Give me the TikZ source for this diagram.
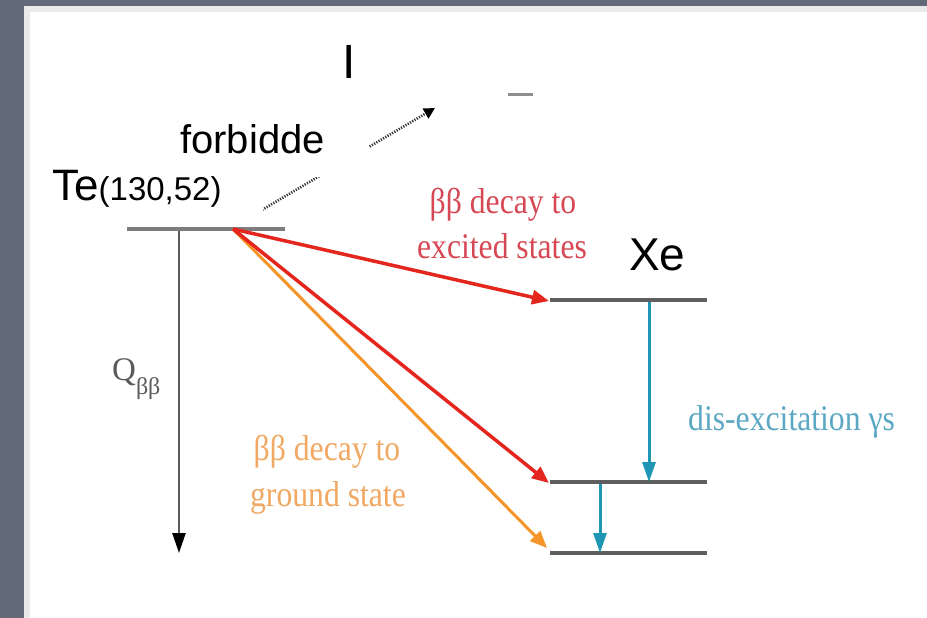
\documentclass[tikz,border=0pt]{standalone}
\usepackage{fontspec}
\setmainfont{Liberation Sans}
\newfontfamily\condserif[FakeStretch=0.88]{Liberation Serif}
\newfontfamily\plainserif{Liberation Serif}
\usetikzlibrary{arrows.meta}
\definecolor{bggray}{RGB}{98,105,121}
\definecolor{edgegray}{RGB}{234,234,234}
\definecolor{levelgray}{RGB}{95,95,95}
\definecolor{televel}{RGB}{125,125,125}
\definecolor{redarrow}{RGB}{228,38,30}
\definecolor{redtext}{RGB}{214,72,84}
\definecolor{orangearrow}{RGB}{245,148,40}
\definecolor{orangetext}{RGB}{240,168,98}
\definecolor{gammacyan}{RGB}{30,150,180}
\definecolor{cyantext}{RGB}{92,168,196}
\definecolor{qgray}{RGB}{90,90,90}
\tikzset{
  elevel/.style={line width=3.5pt, draw=levelgray},
  decayred/.style={line width=3.5pt, draw=redarrow, -{Triangle[length=17pt,width=14pt]}},
  decayorange/.style={line width=3pt, draw=orangearrow, -{Triangle[length=17pt,width=14pt]}},
  gammaarrow/.style={line width=3pt, draw=gammacyan, -{Triangle[length=20pt,width=13pt]}},
  qarrow/.style={line width=2.5pt, draw=qgray, -{Triangle[length=20pt,width=13pt,color=black]}},
  dotarrow/.style={line width=2.6pt, draw=black!80, dash pattern=on 1.2pt off 1.4pt, -{Triangle[length=11pt,width=11pt,color=black]}},
  sanslbl/.style={anchor=base west, inner sep=0pt, text=black},
  redlbl/.style={anchor=base, inner sep=0pt, text=redtext, font=\condserif\fontsize{36}{36}\selectfont},
  orangelbl/.style={anchor=base, inner sep=0pt, text=orangetext, font=\condserif\fontsize{36}{36}\selectfont},
}
\begin{document}
\begin{tikzpicture}[x=1pt,y=-1pt]
\useasboundingbox (0,0) rectangle (927,618);
% slide background
\fill[bggray] (0,0) rectangle (927,618);
\fill[edgegray] (24,6) rectangle (927,618);
\fill[white] (30,12) rectangle (927,618);

% coordinates
\coordinate (te1) at (127,229);
\coordinate (te2) at (285,229);
\coordinate (src) at (233,229);
\coordinate (dsrc) at (233,227);
\coordinate (dend) at (435,108);
\coordinate (xa1) at (550,300);
\coordinate (xa2) at (707,300);
\coordinate (xb1) at (550,482);
\coordinate (xb2) at (707,482);
\coordinate (xc1) at (550,553);
\coordinate (xc2) at (707,553);
\coordinate (ta) at (549,301);
\coordinate (tb) at (549,483);
\coordinate (tc) at (547,548);
\coordinate (qs) at (179,231);
\coordinate (qe) at (179,553);
\coordinate (g1s) at (649,302);
\coordinate (g1e) at (649,482);
\coordinate (g2s) at (600,484);
\coordinate (g2e) at (600,553);
\coordinate (dash1) at (508,95);
\coordinate (dash2) at (533,95);

% forbidden (dotted) arrow, partly hidden by label boxes
\draw[dotarrow] (dsrc) -- (dend);
\fill[white] (40,158) rectangle (263,226.5);
\fill[white] (168,105) rectangle (369,177);

% levels
\draw[line width=3.5pt, draw=televel] (te1) -- (te2);
\draw[elevel] (xa1) -- (xa2);
\draw[elevel] (xb1) -- (xb2);
\draw[elevel] (xc1) -- (xc2);
\draw[line width=3pt, draw=levelgray!70] (dash1) -- (dash2);

% Q arrow
\draw[qarrow] (qs) -- (qe);

% decays
\draw[decayorange] (src) -- (tc);
\draw[decayred] (src) -- (tb);
\draw[decayred] (src) -- (ta);

% gammas
\draw[gammaarrow] (g1s) -- (g1e);
\draw[gammaarrow] (g2s) -- (g2e);

% labels
\node[sanslbl, font=\fontsize{44}{44}\selectfont] (te) at (52,200) {Te{\fontsize{33}{33}\selectfont(130,52)}};
\node[sanslbl, font=\fontsize{40}{40}\selectfont] (forb) at (180,153) {forbidde};
\node[sanslbl, font=\fontsize{48}{48}\selectfont] (iso) at (342,78) {I};
\node[sanslbl, font=\fontsize{46}{46}\selectfont] (xe) at (629,270) {Xe};
\node[redlbl] (r1) at (503,213) {ββ decay to};
\node[redlbl] (r2) at (502,258) {excited states};
\node[orangelbl] (o1) at (327,460) {ββ decay to};
\node[orangelbl] (o2) at (328,506) {ground state};
\node[anchor=base west, inner sep=0pt, text=qgray, font=\plainserif\fontsize{33}{33}\selectfont] (q) at (112,380) {Q\raisebox{-14pt}{\fontsize{24}{24}\selectfont ββ}};
\node[anchor=base west, inner sep=0pt, text=cyantext, font=\condserif\fontsize{36}{36}\selectfont] (dis) at (688,430) {dis-excitation γs};
\end{tikzpicture}
\end{document}
